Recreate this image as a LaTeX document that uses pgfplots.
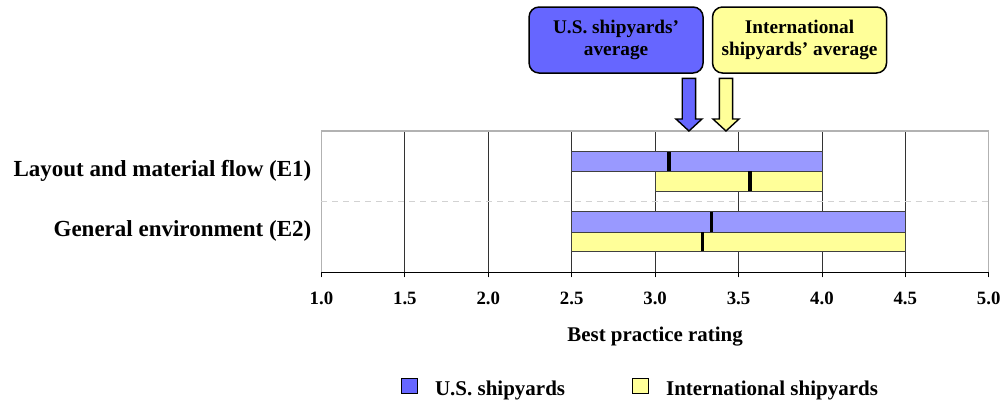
\documentclass[border=0pt]{standalone}
\usepackage{pgfplots}
\pgfplotsset{compat=1.18}
\usepackage{fontspec}
\setmainfont{Liberation Serif}

\definecolor{usbar}{HTML}{9999FF}
\definecolor{intlbar}{HTML}{FFFF99}
\definecolor{usdark}{HTML}{6666FF}

\begin{document}
\begin{tikzpicture}
\begin{axis}[
    width=667.2pt, height=141.3pt, scale only axis,
    xmin=1, xmax=5, ymin=0, ymax=141.3,
    clip=false,
    axis x line*=bottom, axis y line*=left,
    x axis line style={black, line width=1.2pt},
    y axis line style={gray!60, line width=1.5pt},
    xtick={1,1.5,...,5},
    xtick style={black, line width=0.8pt},
    tick align=outside, major tick length=5pt,
    xmajorgrids=true,
    grid style={black!80, line width=0.8pt},
    /pgf/number format/.cd, fixed, fixed zerofill, precision=1, assume math mode=true,
    /pgfplots/.cd,
    xticklabel style={font=\bfseries\fontsize{18.8}{22}\selectfont, anchor=base, yshift=-26.7pt},
    ytick={41,101},
    yticklabels={General environment (E2), Layout and material flow (E1)},
    ytick style={draw=none},
    yticklabel style={font=\bfseries\fontsize{23}{27}\selectfont, inner sep=0pt, xshift=-5pt},
    xlabel={Best practice rating},
    xlabel style={font=\bfseries\fontsize{20.9}{24}\selectfont, at={(axis description cs:0.5,-0.491)}, anchor=base},
    legend style={at={(axis description cs:0.4766,-0.815)}, anchor=center, draw=none, fill=none,
        legend columns=2, font=\bfseries\fontsize{21}{24}\selectfont,
        nodes={inner sep=0pt},
        /tikz/every odd column/.append style={column sep=17pt},
        /tikz/every even column/.append style={column sep=67pt}},
]
% top and right border
\draw[gray!60, line width=1.5pt] (axis cs:1,141.3) -- (axis cs:5,141.3) -- (axis cs:5,0);
% separator
\draw[gray!35, line width=1.2pt, dash pattern=on 6pt off 5pt] (axis cs:1,71) -- (axis cs:5,71);

% ranges
\addplot[forget plot, fill=usbar, draw=black!75, line width=0.8pt] coordinates {(2.5,101.3) (4.0,101.3) (4.0,120.6) (2.5,120.6)} -- cycle;
\addplot[forget plot, fill=intlbar, draw=black!75, line width=0.8pt] coordinates {(3.0,81.3) (4.0,81.3) (4.0,101.3) (3.0,101.3)} -- cycle;
\addplot[forget plot, fill=usbar, draw=black!75, line width=0.8pt] coordinates {(2.5,40) (4.5,40) (4.5,60.6) (2.5,60.6)} -- cycle;
\addplot[forget plot, fill=intlbar, draw=black!75, line width=0.8pt] coordinates {(2.5,21.3) (4.5,21.3) (4.5,40) (2.5,40)} -- cycle;

% averages
\addplot[forget plot, black, line width=3.2pt] coordinates {(3.083,101.3) (3.083,120.6)};
\addplot[forget plot, black, line width=3.2pt] coordinates {(3.569,81.3) (3.569,101.3)};
\addplot[forget plot, black, line width=3.2pt] coordinates {(3.336,40) (3.336,60.6)};
\addplot[forget plot, black, line width=3.2pt] coordinates {(3.285,21.3) (3.285,40)};

% arrows to overall averages
\addplot[forget plot, fill=usdark, draw=black, line width=1.4pt] coordinates {(3.163,194) (3.243,194) (3.243,153.3) (3.281,153.3) (3.203,141.3) (3.125,153.3) (3.163,153.3)} -- cycle;
\addplot[forget plot, fill=intlbar, draw=black, line width=1.4pt] coordinates {(3.385,194) (3.465,194) (3.465,153.3) (3.503,153.3) (3.425,141.3) (3.347,153.3) (3.385,153.3)} -- cycle;

\node[draw=black, line width=1.5pt, fill=usdark, rounded corners=10pt, minimum width=174pt, minimum height=66pt,
    align=center, font=\bfseries\fontsize{19.3}{22.4}\selectfont] at (axis cs:2.766,232.3) {U.S. shipyards’\\average};
\node[draw=black, line width=1.5pt, fill=intlbar, rounded corners=10pt, minimum width=174pt, minimum height=66pt,
    align=center, font=\bfseries\fontsize{19.3}{22.4}\selectfont] at (axis cs:3.866,232.3) {International\\shipyards’ average};

\addlegendimage{legend image code/.code={\draw[fill=usdark, draw=black, line width=1pt] (0pt,-5pt) rectangle (16pt,10.5pt);}}
\addlegendentry{U.S. shipyards}
\addlegendimage{legend image code/.code={\draw[fill=intlbar, draw=black, line width=1pt] (0pt,-5pt) rectangle (16pt,10.5pt);}}
\addlegendentry{International shipyards}
\end{axis}
\pgfresetboundingbox
\path[use as bounding box] ([shift={(-321.5pt,-127.7pt)}]current axis.south west) rectangle ++(1003pt,400pt);
\end{tikzpicture}
\end{document}
